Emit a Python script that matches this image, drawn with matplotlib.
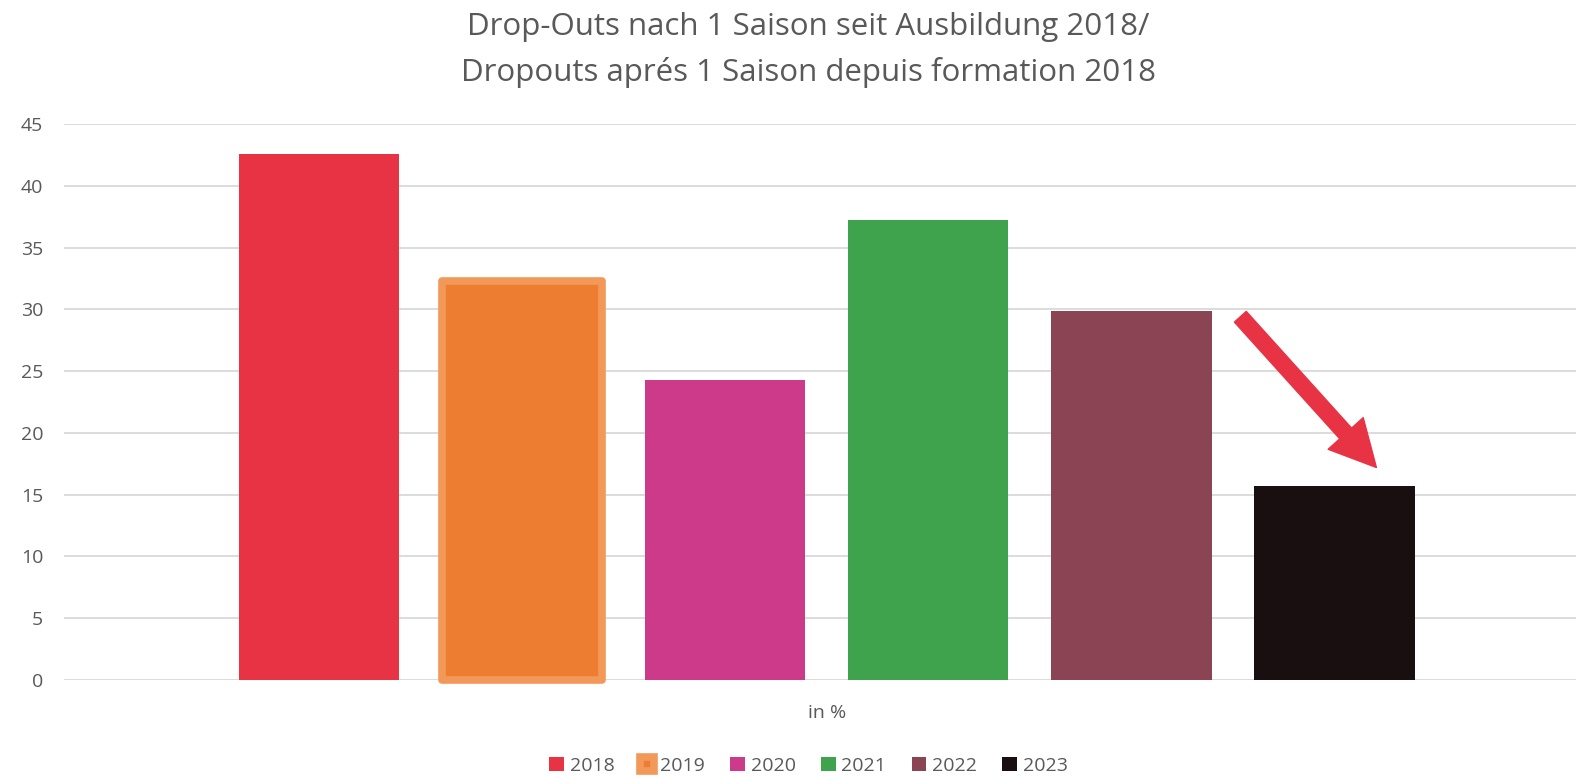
import matplotlib.pyplot as plt
import numpy as np

# Werte (in %)
jahre = ['2018', '2019', '2020', '2021', '2022', '2023']
werte = [42.6, 32.3, 24.3, 37.2, 29.9, 15.7]
farben = ['#E83345', '#ED7D31', '#CC3A89', '#3FA34D', '#8A4454', '#190E10']
kategorie = 'in %'
titel = 'Drop-Outs nach 1 Saison seit Ausbildung 2018/\nDropouts aprés 1 Saison depuis formation 2018'

# Pfeil (Datenkoordinaten)
pfeil_start = (4.537, 29.4)
pfeil_ende = (5.207, 17.2)

grau = '#595959'
plt.rcParams['font.family'] = ['Open Sans', 'DejaVu Sans']

fig = plt.figure(figsize=(15.76, 7.78), dpi=100)
ax = fig.add_axes([64/1576, 1-680/778, 1-64/1576, (680-124)/778])

x = np.arange(len(jahre))
for i in range(len(jahre)):
    if jahre[i] == '2019':
        ax.bar(x[i], werte[i], width=0.79, color=farben[i], edgecolor='#F2995A',
               linewidth=5.5, joinstyle='round', label=jahre[i], zorder=3, clip_on=False)
    else:
        ax.bar(x[i], werte[i], width=0.79, color=farben[i], label=jahre[i], zorder=3)

ax.annotate('', xy=pfeil_ende, xytext=pfeil_start,
            arrowprops=dict(arrowstyle='simple,head_length=33,head_width=34,tail_width=11.5',
                            mutation_scale=1, color='#E83345', shrinkA=0, shrinkB=0), zorder=4)

ax.set_xlim(-1.256, 6.19)
ax.set_ylim(0, 45)
ax.set_yticks(np.arange(0, 46, 5))
ax.grid(axis='y', color='#D9D9D9', linewidth=1.3, zorder=0)
ax.set_xticks([2.5], [kategorie])
ax.tick_params(axis='both', length=0, colors=grau, labelsize=14)
ax.tick_params(axis='y', pad=15)
ax.tick_params(axis='x', pad=17)
for s in ax.spines.values():
    s.set_visible(False)

fig.text(0.513, 0.984, titel, ha='center', va='top', fontsize=22.5, color=grau, linespacing=1.6)

leg = fig.legend(loc='lower center', bbox_to_anchor=(0.513, -0.018), ncol=6, frameon=False,
                 fontsize=14, handlelength=0.75, handleheight=0.75, handletextpad=0.3,
                 columnspacing=1.3, labelcolor=grau)

fig.savefig('out.png', dpi=100)
